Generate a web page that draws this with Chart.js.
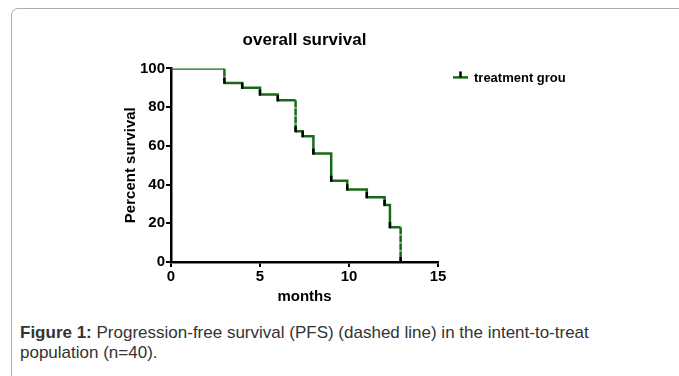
<!DOCTYPE html>
<html>
<head>
<meta charset="utf-8">
<script src="https://cdn.jsdelivr.net/npm/chart.js@4"></script>
<style>
  body { margin: 0; background: #fff; width: 679px; height: 376px; overflow: hidden; position: relative; font-family: "Liberation Sans", Arial, sans-serif; }
  #box { position: absolute; left: 11px; top: 8px; width: 720px; height: 420px; border: 1.5px solid #adadad; border-top-left-radius: 7px; }
  #wrap { position: absolute; left: 100px; top: 22px; width: 466px; height: 290px; }
  #caption { position: absolute; left: 20px; top: 323px; width: 630px; font-size: 17px; line-height: 20px; color: #333; }
</style>
</head>
<body>
<div id="box"></div>
<div id="wrap"><canvas id="chart" width="466" height="290"></canvas></div>
<div id="caption"><b>Figure 1:</b> Progression-free survival (PFS) (dashed line) in the intent-to-treat population (n=40).</div>
<script>
// event times (months) and survival (%) after each step
var times = [3, 4, 5, 6, 7, 7.4, 8, 9, 9.9, 11, 12, 12.3, 12.9];
var survival = [92.5, 90, 86.5, 83.5, 67.5, 65, 56, 42, 37.5, 33.5, 29.5, 18, 0];
var xTicks = [0, 5, 10, 15];
var yTicks = [0, 20, 40, 60, 80, 100];
var seriesName = 'treatment group';

var green = '#166c16';
var dashedDrops = [3, 7, 12.9];

// step curve points
var pts = [{x: 0, y: 100}];
var prev = 100;
for (var i = 0; i < times.length; i++) {
    pts.push({x: times[i], y: prev});
    pts.push({x: times[i], y: survival[i]});
    prev = survival[i];
}

var boldFont = function(size){ return {family: '"Liberation Sans", Arial, sans-serif', size: size, weight: 'bold'}; };

var censorTicks = {
    id: 'censorTicks',
    afterDatasetsDraw: function(chart){
        var c = chart.ctx, xs = chart.scales.x, ys = chart.scales.y;
        c.save();
        c.strokeStyle = '#000';
        c.lineWidth = 2.5;
        for (var i = 0; i < times.length; i++) {
            var px = xs.getPixelForValue(times[i]);
            var py = ys.getPixelForValue(survival[i]);
            c.beginPath();
            c.moveTo(px, py + 1);
            c.lineTo(px, py - 5);
            c.stroke();
        }
        c.restore();
    }
};

var sideLegend = {
    id: 'sideLegend',
    afterDraw: function(chart){
        var c = chart.ctx, a = chart.chartArea;
        var x0 = a.right + 15, y0 = a.top + 9;
        c.save();
        c.strokeStyle = green;
        c.lineWidth = 2.5;
        c.beginPath(); c.moveTo(x0, y0); c.lineTo(x0 + 15, y0); c.stroke();
        c.strokeStyle = '#000';
        c.beginPath(); c.moveTo(x0 + 7.5, y0); c.lineTo(x0 + 7.5, y0 - 6); c.stroke();
        c.fillStyle = '#000';
        c.font = 'bold 13px "Liberation Sans", Arial, sans-serif';
        c.textBaseline = 'middle';
        c.fillText(seriesName, x0 + 21, y0 + 1);
        c.restore();
    }
};

var ctx = document.getElementById('chart').getContext('2d');
var chart = new Chart(ctx, {
    type: 'line',
    data: {
        datasets: [{
            label: seriesName,
            data: pts,
            borderColor: green,
            borderWidth: 2.5,
            pointRadius: 0,
            fill: false,
            tension: 0,
            segment: {
                borderDash: function(s){
                    var a = s.p0.parsed, b = s.p1.parsed;
                    if (a.x === b.x && dashedDrops.indexOf(a.x) >= 0) return [5, 3];
                    return undefined;
                }
            }
        }]
    },
    options: {
        responsive: false,
        animation: false,
        layout: {padding: {left: 0, right: 128, top: 0, bottom: 0}},
        plugins: {
            legend: {display: false},
            tooltip: {enabled: false},
            title: {
                display: true,
                text: 'overall survival',
                color: '#000',
                fullSize: false,
                font: boldFont(17),
                padding: {top: 8, bottom: 18}
            }
        },
        scales: {
            x: {
                type: 'linear',
                min: 0,
                max: 15,
                afterBuildTicks: function(s){ s.ticks = xTicks.map(function(v){ return {value: v}; }); },
                afterFit: function(s){ s.height = 50; },
                ticks: {color: '#000', font: boldFont(15), padding: 1, maxRotation: 0},
                grid: {display: true, drawOnChartArea: false, drawTicks: true, tickLength: 5, color: '#000', lineWidth: 2},
                border: {color: '#000', width: 2.5},
                title: {display: true, text: 'months', color: '#000', font: boldFont(15), padding: {top: 0, bottom: 6}}
            },
            y: {
                type: 'linear',
                min: 0,
                max: 100,
                afterBuildTicks: function(s){ s.ticks = yTicks.map(function(v){ return {value: v}; }); },
                afterFit: function(s){ s.width = 71; },
                ticks: {color: '#000', font: boldFont(15), padding: 1},
                grid: {display: true, drawOnChartArea: false, drawTicks: true, tickLength: 5, color: '#000', lineWidth: 2},
                border: {color: '#000', width: 2.5},
                title: {display: true, text: 'Percent survival', color: '#000', font: boldFont(15), padding: {top: 22, bottom: 0}}
            }
        }
    },
    plugins: [censorTicks, sideLegend]
});
</script>
</body>
</html>
